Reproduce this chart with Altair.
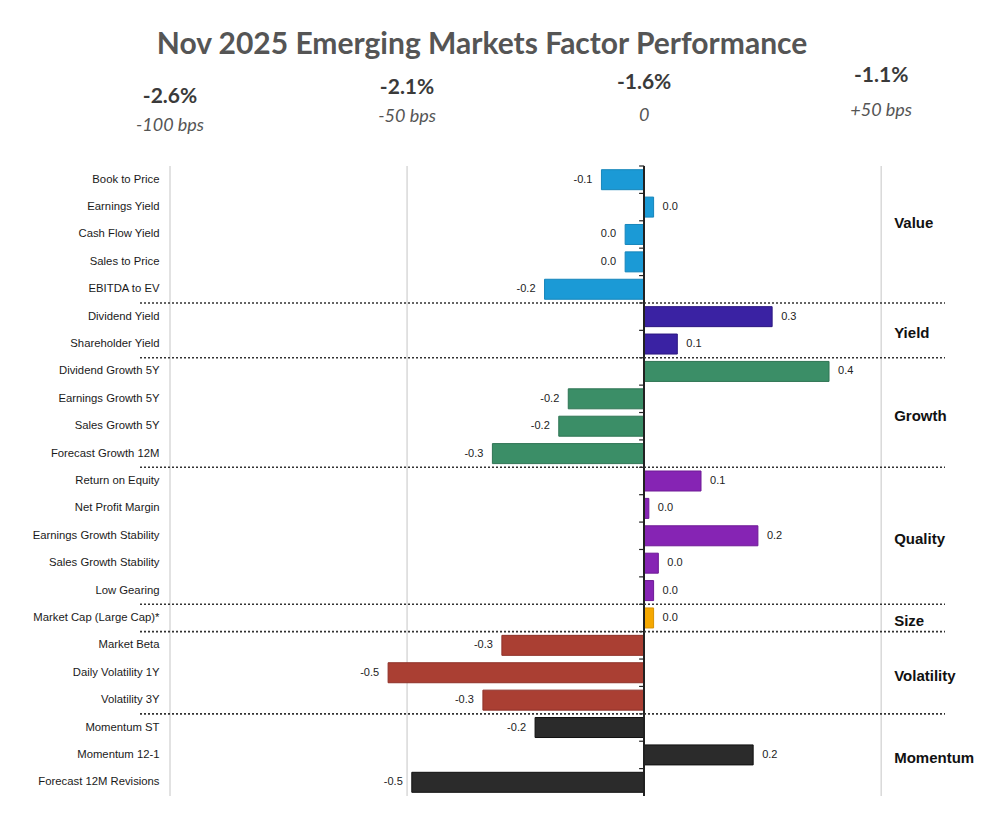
import altair as alt
import pandas as pd

# ---------------- data ----------------
factors = [
    "Book to Price", "Earnings Yield", "Cash Flow Yield", "Sales to Price", "EBITDA to EV",
    "Dividend Yield", "Shareholder Yield",
    "Dividend Growth 5Y", "Earnings Growth 5Y", "Sales Growth 5Y", "Forecast Growth 12M",
    "Return on Equity", "Net Profit Margin", "Earnings Growth Stability",
    "Sales Growth Stability", "Low Gearing",
    "Market Cap (Large Cap)*",
    "Market Beta", "Daily Volatility 1Y", "Volatility 3Y",
    "Momentum ST", "Momentum 12-1", "Forecast 12M Revisions",
]
groups = (["Value"] * 5 + ["Yield"] * 2 + ["Growth"] * 4 + ["Quality"] * 5
          + ["Size"] * 1 + ["Volatility"] * 3 + ["Momentum"] * 3)
values = [
    -0.09, 0.02, -0.04, -0.04, -0.21,
    0.27, 0.07,
    0.39, -0.16, -0.18, -0.32,
    0.12, 0.01, 0.24, 0.03, 0.02,
    0.02,
    -0.30, -0.54, -0.34,
    -0.23, 0.23, -0.49,
]
group_names = ["Value", "Yield", "Growth", "Quality", "Size", "Volatility", "Momentum"]
group_colors = ["#1b9ad6", "#3a22a3", "#3b8e67", "#8624b4", "#f5a800", "#aa3f33", "#2b2b2b"]
group_strokes = ["#1685bb", "#2c1880", "#2f7454", "#6e1a96", "#d99200", "#8f3128", "#111111"]

grid_values = [-1.0, -0.5, 0.5]
header_values = [-1.0, -0.5, 0.0, 0.5]
header_pct = ["-2.6%", "-2.1%", "-1.6%", "-1.1%"]
header_bps = ["-100 bps", "-50 bps", "0", "+50 bps"]
title_text = "Nov 2025 Emerging Markets Factor Performance"

# ---------------- layout ----------------
W, H = 806, 630
pct_y = [-69, -78, -83, -90]
bps_y = [-40, -49, -50, -55]
group_nudge = {"Value": -14}
step = H / len(factors)


def fmt(v):
    s = f"{v:.1f}"
    return "0.0" if s in ("-0.0", "0.0") else s


df = pd.DataFrame({"factor": factors, "group": groups, "value": values})
df["label"] = [fmt(v) for v in values]

xscale = alt.Scale(domain=[-1.0, 0.7], nice=False, zero=False)
ysort = factors
yscale = alt.Scale(paddingInner=0, paddingOuter=0)
yaxis = alt.Axis(title=None, domain=False, ticks=False, labelFont="Liberation Sans",
                 labelFontSize=11.3, labelColor="#1a1a1a", labelPadding=11, labelLimit=300)

base = alt.Chart(df)

grid = alt.Chart(pd.DataFrame({"g": grid_values})).mark_rule(
    color="#cfcfcf", strokeWidth=1.2
).encode(x=alt.X("g:Q", scale=xscale, axis=None))

bars = base.mark_bar(height=20, strokeWidth=1).encode(
    x=alt.X("value:Q", scale=xscale, axis=None),
    x2=alt.datum(0),
    y=alt.Y("factor:N", sort=ysort, scale=yscale, axis=yaxis),
    color=alt.Color("group:N", scale=alt.Scale(domain=group_names, range=group_colors), legend=None),
    stroke=alt.Stroke("group:N", scale=alt.Scale(domain=group_names, range=group_strokes), legend=None),
)

zero_line = base.mark_rule(color="#222222", strokeWidth=1.5).encode(x=alt.datum(0))

zero_ticks = base.mark_rule(color="#222222", strokeWidth=1.2, xOffset=-5).encode(
    x=alt.datum(0), x2=alt.datum(0),
    y=alt.Y("factor:N", sort=ysort, bandPosition=0),
)

first_rows = [factors[i] for i in range(1, len(factors)) if groups[i] != groups[i - 1]]
seps = alt.Chart(pd.DataFrame({"factor": first_rows})).mark_rule(
    color="#333333", strokeWidth=1.6, strokeDash=[2, 2]
).encode(
    y=alt.Y("factor:N", sort=ysort, bandPosition=0),
    x=alt.value(-30), x2=alt.value(775),
)

pos_lbl = base.transform_filter("datum.value >= 0").mark_text(
    align="left", dx=9, baseline="middle", font="Liberation Sans", fontSize=11, color="#222222"
).encode(x=alt.X("value:Q"), y=alt.Y("factor:N", sort=ysort), text="label:N")

neg_lbl = base.transform_filter("datum.value < 0").mark_text(
    align="right", dx=-9, baseline="middle", font="Liberation Sans", fontSize=11, color="#222222"
).encode(x=alt.X("value:Q"), y=alt.Y("factor:N", sort=ysort), text="label:N")

layers = [grid, bars, zero_line, zero_ticks, seps, pos_lbl, neg_lbl]

# group labels at the middle of each group
for g in group_names:
    idx = [i for i, gg in enumerate(groups) if gg == g]
    mid = sum(idx) / len(idx)
    anchor = int(mid)
    dy = (mid - anchor) * step + 3 + group_nudge.get(g, 0)
    layers.append(
        alt.Chart(pd.DataFrame({"factor": [factors[anchor]], "t": [g]})).mark_text(
            align="left", baseline="middle", dx=13, dy=dy, font="Liberation Sans",
            fontSize=15, fontWeight="bold", color="#111111"
        ).encode(x=alt.datum(0.5), y=alt.Y("factor:N", sort=ysort), text="t:N")
    )

# header
for hv, p, b, py, by in zip(header_values, header_pct, header_bps, pct_y, bps_y):
    layers.append(
        alt.Chart(pd.DataFrame({"t": [p]})).mark_text(
            align="center", baseline="middle", font="Lato", fontSize=21, fontWeight="bold",
            color="#3a3a3a"
        ).encode(x=alt.datum(hv), y=alt.value(py), text="t:N")
    )
    layers.append(
        alt.Chart(pd.DataFrame({"t": [b]})).mark_text(
            align="center", baseline="middle", font="Lato", fontSize=18, fontStyle="italic",
            color="#555555"
        ).encode(x=alt.datum(hv), y=alt.value(by), text="t:N")
    )

layers.append(
    alt.Chart(pd.DataFrame({"t": [title_text]})).mark_text(
        align="center", baseline="middle", font="Lato", fontSize=30, fontWeight="bold",
        color="#555555"
    ).encode(x=alt.value(312), y=alt.value(-121), text="t:N")
)

chart = alt.layer(*layers).properties(
    width=W, height=H,
    autosize=alt.AutoSizeParams(type="none"),
    padding={"left": 162, "top": 158, "right": 10, "bottom": 20},
    background="white",
).configure_view(stroke=None)

chart.save("out.html", embed_options={"renderer": "svg", "actions": False})
